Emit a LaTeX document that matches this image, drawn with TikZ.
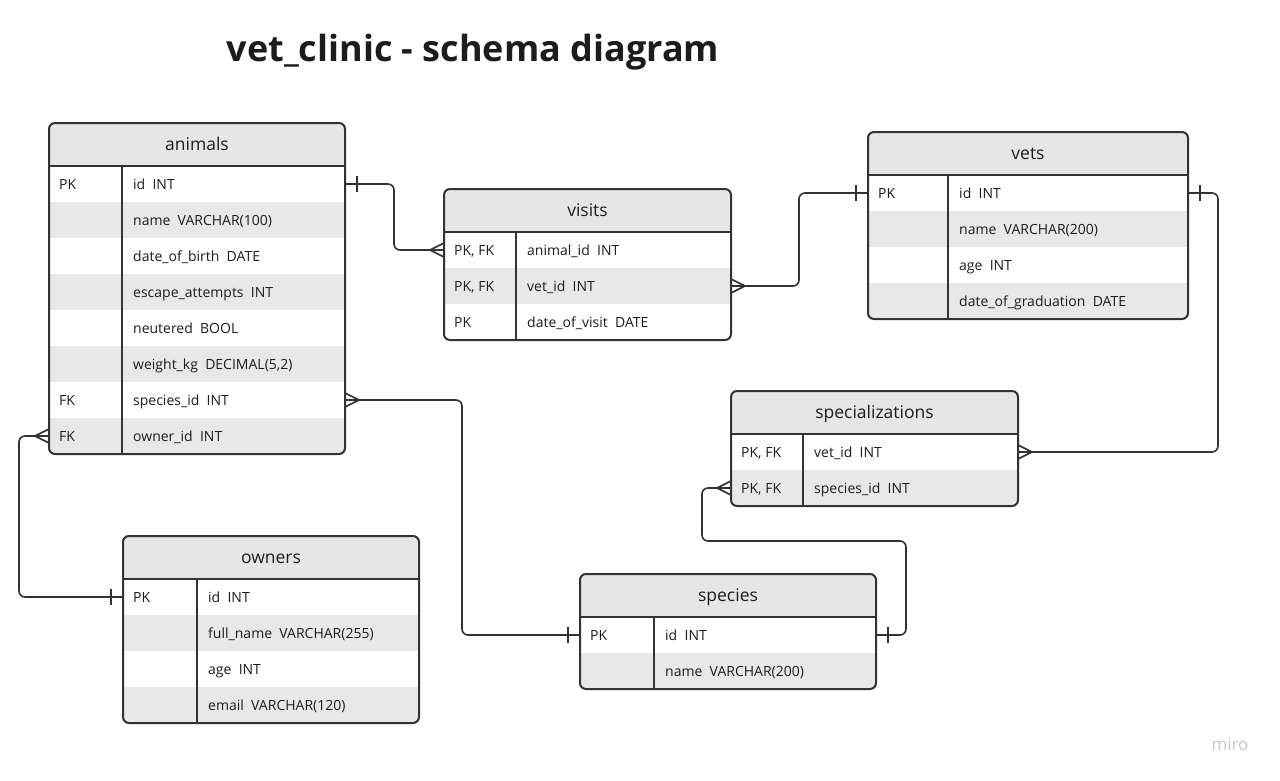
\documentclass[tikz,border=0pt]{standalone}
\usepackage{fontspec}
\setmainfont{Open Sans}
\usetikzlibrary{calc}
\definecolor{hdr}{HTML}{E6E6E6}
\definecolor{rowg}{HTML}{E8E8E8}
\definecolor{ink}{HTML}{333333}
\definecolor{txt}{HTML}{1C1C1C}
\definecolor{logo}{HTML}{C8C8C8}
\tikzset{
  conn/.style={ink, line width=1.6pt},
  keytext/.style={anchor=west, inner sep=0pt, text=txt, font=\fontsize{14}{16}\selectfont, text height=10pt, text depth=3pt},
  fieldtext/.style={anchor=west, inner sep=0pt, text=txt, font=\fontsize{14}{16}\selectfont, text height=10pt, text depth=3pt},
  hdrtext/.style={inner sep=0pt, text=txt, font=\fontsize{17.5}{20}\selectfont, text height=12pt, text depth=4pt},
  crow/.pic={\draw[conn] (14,0) -- (0,-7) (14,0) -- (0,7) (0,0) -- (14,0);},
  onebar/.pic={\draw[conn] (12,-8) -- (12,8);}
}
% #1 name #2 x #3 y #4 w #5 divider offset #6 rows #7 title #8 key/field list
\newcommand\ertable[8]{%
  \pgfmathsetmacro\erH{43+36*#6}
  \fill[white,rounded corners=6pt] (#2,#3) rectangle ++(#4,\erH);
  \begin{scope}
    \clip[rounded corners=6pt] (#2,#3) rectangle ++(#4,\erH);
    \fill[hdr] (#2,#3) rectangle ++(#4,43);
    \foreach \k/\f [count=\i] in {#8}{
      \ifodd\i\else\fill[rowg] ({#2},{#3+43+36*(\i-1)}) rectangle ++(#4,36);\fi
      \node[keytext] (#1-\i-k) at ({#2+10},{#3+43+36*(\i-1)+19.5}) {\k};
      \node[fieldtext] (#1-\i-f) at ({#2+#5+11},{#3+43+36*(\i-1)+19.5}) {\f};
      \coordinate (#1-\i-L) at ({#2},{#3+43+36*(\i-1)+18});
      \coordinate (#1-\i-R) at ({#2+#4},{#3+43+36*(\i-1)+18});
    }
  \end{scope}
  \draw[ink, line width=2pt] (#2,{#3+43}) -- ++(#4,0);
  \draw[ink, line width=1.5pt] ({#2+#5},{#3+43}) -- ({#2+#5},{#3+\erH});
  \draw[ink, line width=2pt, rounded corners=6pt] (#2,#3) rectangle ++(#4,\erH);
  \node[hdrtext] (#1-title) at ({#2+#4/2},{#3+23}) {#7};
}
\begin{document}
\begin{tikzpicture}[x=1pt,y=-1pt]
\useasboundingbox (0,0) rectangle (1280,780);
\fill[white] (0,0) rectangle (1280,780);

\node[anchor=base, inner sep=0pt, text=txt, font=\fontsize{36}{42}\selectfont\bfseries] (title) at (473,61) {vet\_clinic - schema diagram};

\ertable{animals}{49}{123}{296}{73}{8}{animals}{PK/id~~INT, {}/name~~VARCHAR(100), {}/date\_of\_birth~~DATE, {}/escape\_attempts~~INT, {}/neutered~~BOOL, {}/weight\_kg~~DECIMAL(5{,}2), FK/species\_id~~INT, FK/owner\_id~~INT}

\ertable{visits}{444}{189}{287}{72}{3}{visits}{{PK, FK}/animal\_id~~INT, {PK, FK}/vet\_id~~INT, PK/date\_of\_visit~~DATE}

\ertable{vets}{868}{132}{320}{80}{4}{vets}{PK/id~~INT, {}/name~~VARCHAR(200), {}/age~~INT, {}/date\_of\_graduation~~DATE}

\ertable{spec}{731}{391}{287}{72}{2}{specializations}{{PK, FK}/vet\_id~~INT, {PK, FK}/species\_id~~INT}

\ertable{owners}{123}{536}{296}{74}{4}{owners}{PK/id~~INT, {}/full\_name~~VARCHAR(255), {}/age~~INT, {}/email~~VARCHAR(120)}

\ertable{species}{580}{574}{296}{74}{2}{species}{PK/id~~INT, {}/name~~VARCHAR(200)}

% connectors
\draw[conn, rounded corners=6pt] (animals-1-R) -- ++(49,0) |- (visits-1-L);
\pic at (animals-1-R) {onebar};
\pic[rotate=180] at (visits-1-L) {crow};

\draw[conn, rounded corners=6pt] (visits-2-R) -- ++(68,0) |- (vets-1-L);
\pic at (visits-2-R) {crow};
\pic[rotate=180] at (vets-1-L) {onebar};

\draw[conn, rounded corners=6pt] (vets-1-R) -- ++(30,0) |- (spec-1-R);
\pic at (vets-1-R) {onebar};
\pic at (spec-1-R) {crow};

\draw[conn, rounded corners=6pt] (animals-7-R) -- ++(117,0) |- (species-1-L);
\pic at (animals-7-R) {crow};
\pic[rotate=180] at (species-1-L) {onebar};

\draw[conn, rounded corners=6pt] (animals-8-L) -- ++(-30,0) |- (owners-1-L);
\pic[rotate=180] at (animals-8-L) {crow};
\pic[rotate=180] at (owners-1-L) {onebar};

\coordinate (bend) at ($(spec-2-L)+(-29,53)$);
\draw[conn, rounded corners=6pt] (species-1-R) -- ++(30,0) |- (bend) |- (spec-2-L);
\pic at (species-1-R) {onebar};
\pic[rotate=180] at (spec-2-L) {crow};

\node[anchor=base, inner sep=0pt, text=logo, font=\fontsize{17}{20}\selectfont] (miro) at (1230,750) {miro};
\end{tikzpicture}
\end{document}
